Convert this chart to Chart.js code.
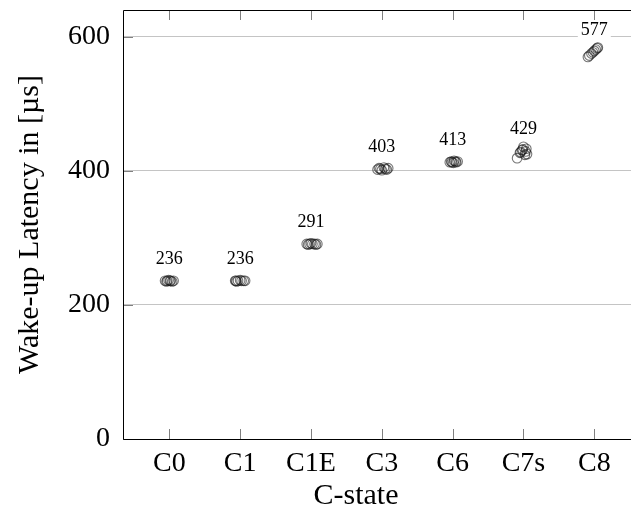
<!DOCTYPE html>
<html><head><meta charset="utf-8">
<script src="https://cdn.jsdelivr.net/npm/chart.js@4/dist/chart.umd.min.js"></script>
<style>html,body{margin:0;padding:0;background:#fff;overflow:hidden}</style>
</head><body>
<canvas id="c" width="631" height="517"></canvas>
<script>
const categories = ['C0', 'C1', 'C1E', 'C3', 'C6', 'C7s', 'C8'];
const medians = [236, 236, 291, 403, 413, 429, 577];
const yTicks = [0, 200, 400, 600];
const xTitle = 'C-state';
const yTitle = 'Wake-up Latency in [µs]';

// samples per C-state (latency in µs) and horizontal jitter (in category units)
const c0Values  = [236, 235, 236, 237, 236, 236, 235, 236];
const c0Jitter  = [-0.06, -0.04, -0.03, -0.01, 0.01, 0.02, 0.04, 0.06];
const c1Values  = [236, 236, 235, 236, 237, 236, 236, 236];
const c1Jitter  = [-0.07, -0.06, -0.05, -0.03, 0.0, 0.02, 0.05, 0.07];
const c1eValues = [291, 290, 291, 292, 291, 291, 290, 291];
const c1eJitter = [-0.06, -0.04, -0.02, 0.0, 0.02, 0.05, 0.07, 0.09];
const c3Values  = [402, 404, 403, 401, 405, 403, 402, 404];
const c3Jitter  = [-0.06, -0.04, -0.02, 0.0, 0.03, 0.05, 0.07, 0.09];
const c6Values  = [413, 414, 413, 412, 415, 414, 413, 414];
const c6Jitter  = [-0.04, -0.02, -0.01, 0.01, 0.02, 0.04, 0.05, 0.07];
const c7sValues = [419, 424, 427, 429, 431, 433, 436, 428, 425, 432];
const c7sJitter = [-0.09, 0.02, -0.05, 0.03, -0.02, 0.04, 0.0, -0.04, 0.05, -0.01];
const c8Values  = [570, 572, 575, 577, 579, 581, 583, 584];
const c8Jitter  = [-0.09, -0.07, -0.04, -0.02, 0.0, 0.02, 0.04, 0.05];

const allValues = [c0Values, c1Values, c1eValues, c3Values, c6Values, c7sValues, c8Values];
const allJitter = [c0Jitter, c1Jitter, c1eJitter, c3Jitter, c6Jitter, c7sJitter, c8Jitter];

const points = [];
allValues.forEach((vals, i) => {
  vals.forEach((v, k) => points.push({ x: i + allJitter[i][k], y: v }));
});

const FONT = "'Liberation Serif', 'DejaVu Serif', serif";

const framePlugin = {
  id: 'frame',
  afterDatasetsDraw(chart) {
    const ctx = chart.ctx, xs = chart.scales.x, ys = chart.scales.y;
    ctx.save();
    ctx.font = '18px ' + FONT;
    ctx.textAlign = 'center';
    ctx.textBaseline = 'middle';
    medians.forEach((m, i) => {
      const x = xs.getPixelForValue(i);
      const y = ys.getPixelForValue(m) - 22;
      const t = String(m);
      const w = ctx.measureText(t).width + 6;
      ctx.fillStyle = '#ffffff';
      ctx.fillRect(x - w / 2, y - 9, w, 18);
      ctx.fillStyle = '#000000';
      ctx.fillText(t, x, y);
    });
    ctx.restore();
  },
  afterDraw(chart) {
    const ctx = chart.ctx, a = chart.chartArea, xs = chart.scales.x, ys = chart.scales.y;
    ctx.save();
    ctx.strokeStyle = '#808080';
    ctx.lineWidth = 1;
    ctx.beginPath();
    categories.forEach((_, i) => {
      const x = Math.round(xs.getPixelForValue(i)) + 0.5;
      ctx.moveTo(x, a.bottom); ctx.lineTo(x, a.bottom - 10);
      ctx.moveTo(x, a.top); ctx.lineTo(x, a.top + 10);
    });
    yTicks.forEach(v => {
      const y = Math.round(ys.getPixelForValue(v)) + 0.5;
      ctx.moveTo(a.left, y); ctx.lineTo(a.left + 10, y);
    });
    ctx.stroke();
    ctx.strokeStyle = '#000000';
    ctx.beginPath();
    ctx.moveTo(a.right + 5, a.top + 0.5);
    ctx.lineTo(a.left + 0.5, a.top + 0.5);
    ctx.lineTo(a.left + 0.5, a.bottom + 0.5);
    ctx.lineTo(a.right + 5, a.bottom + 0.5);
    ctx.stroke();
    ctx.font = '30px ' + FONT;
    ctx.fillStyle = '#000';
    ctx.textAlign = 'center';
    ctx.textBaseline = 'middle';
    ctx.fillText(xTitle, a.left + 233, a.bottom + 57);
    ctx.restore();
  }
};

new Chart(document.getElementById('c'), {
  type: 'scatter',
  data: {
    datasets: [{
      data: points,
      pointStyle: 'circle',
      pointRadius: 4.8,
      pointHoverRadius: 4.8,
      pointBorderWidth: 1.1,
      pointBorderColor: 'rgba(25,25,25,0.6)',
      pointBackgroundColor: 'rgba(0,0,0,0)'
    }]
  },
  options: {
    responsive: false,
    animation: false,
    devicePixelRatio: 1,
    layout: { autoPadding: false, padding: { top: 10, left: 0, right: 0, bottom: 0 } },
    plugins: { legend: { display: false }, tooltip: { enabled: false } },
    scales: {
      x: {
        type: 'linear',
        min: -0.654,
        max: 6.518,
        afterBuildTicks: s => { s.ticks = categories.map((_, i) => ({ value: i })); },
        afterFit: s => { s.height = 78; s.paddingLeft = 0; s.paddingRight = 0; },
        grid: { display: false, drawTicks: false },
        border: { display: false },
        ticks: {
          autoSkip: false, maxRotation: 0, padding: 8,
          color: '#000', font: { family: FONT, size: 28 },
          callback: v => categories[Math.round(v)]
        },
        title: { display: false }
      },
      y: {
        min: 0,
        max: 640,
        afterBuildTicks: s => { s.ticks = yTicks.map(v => ({ value: v })); },
        afterFit: s => { s.width = 123; s.paddingTop = 0; s.paddingBottom = 0; },
        grid: {
          drawTicks: false,
          color: ctx => (ctx.tick && ctx.tick.value === 0) ? 'rgba(0,0,0,0)' : '#c4c4c4',
          lineWidth: 1
        },
        border: { display: false },
        ticks: {
          padding: 13, color: '#000', font: { family: FONT, size: 28 },
          callback: v => String(v)
        },
        title: {
          display: true, text: yTitle, color: '#000',
          font: { family: FONT, size: 30 }, padding: { top: 12, bottom: 0 }
        }
      }
    }
  },
  plugins: [framePlugin]
});
</script>
</body></html>
